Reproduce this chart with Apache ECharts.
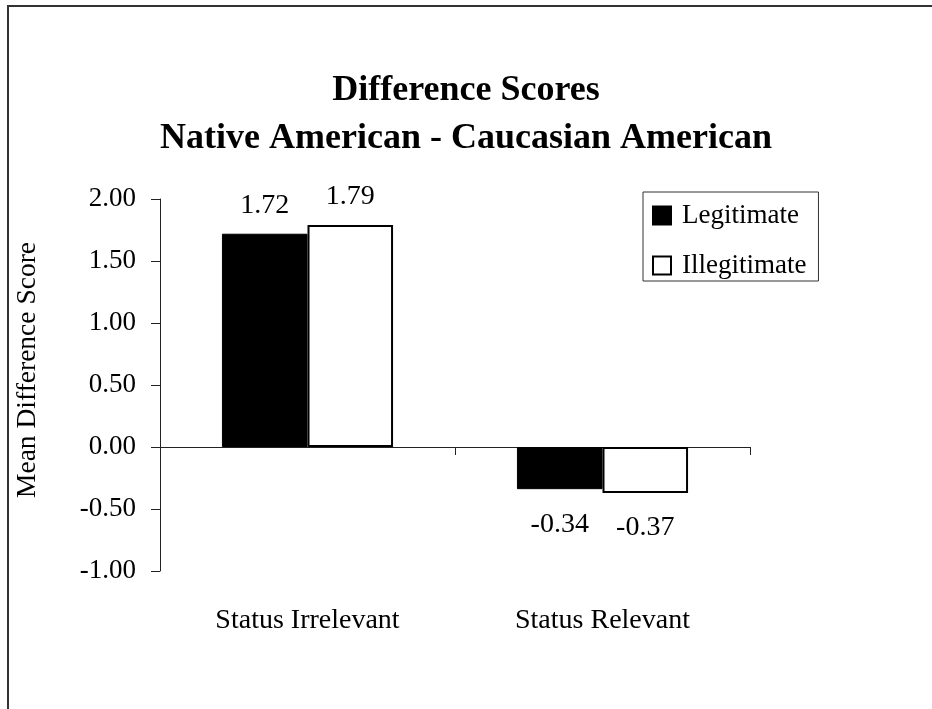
<!DOCTYPE html>
<html>
<head>
<meta charset="utf-8">
<script src="https://cdn.jsdelivr.net/npm/echarts@6/dist/echarts.min.js"></script>
<style>
  html, body { margin: 0; padding: 0; background: #fff; }
  #chart { width: 932px; height: 709px; }
</style>
</head>
<body>
<div id="chart"></div>
<script>
// Mean difference scores (Native American minus Caucasian American)
const categories = ['Status Irrelevant', 'Status Relevant'];
const legitimate = [1.72, -0.34];
const illegitimate = [1.79, -0.37];
const seriesNames = ['Legitimate', 'Illegitimate'];
const yTicks = { min: -1, max: 2, step: 0.5 };

const FONT = '"Liberation Serif", "Times New Roman", serif';

// Value labels sit above positive bars and below negative ones
function withLabels(values, gapUp, gapDown) {
  return values.map(v => ({
    value: v,
    label: { position: v >= 0 ? 'top' : 'bottom', distance: v >= 0 ? gapUp : gapDown }
  }));
}

const chart = echarts.init(document.getElementById('chart'), null, { renderer: 'canvas' });

chart.setOption({
  backgroundColor: '#ffffff',
  animation: false,
  title: {
    text: 'Difference Scores\nNative American - Caucasian American',
    left: 'center',
    top: 62,
    textStyle: {
      fontFamily: FONT,
      fontWeight: 'bold',
      fontSize: 36,
      lineHeight: 48,
      color: '#000'
    }
  },
  legend: {
    orient: 'vertical',
    left: 643,
    top: 192,
    padding: [10, 12, 2, 9],
    itemGap: 23,
    itemWidth: 18,
    itemHeight: 18,
    borderColor: '#333',
    borderWidth: 1,
    icon: 'rect',
    data: seriesNames,
    textStyle: {
      fontFamily: FONT,
      fontSize: 27,
      lineHeight: 26,
      color: '#000',
      padding: [0, 0, 0, 6]
    }
  },
  grid: {
    left: 160,
    right: 182,
    top: 199,
    bottom: 138,
    containLabel: false,
    outerBoundsMode: 'none'
  },
  xAxis: {
    type: 'category',
    data: categories,
    axisLine: { onZero: true, lineStyle: { color: '#222', width: 1 } },
    axisTick: { show: true, length: 8, inside: false, lineStyle: { color: '#222' } },
    axisLabel: {
      margin: 36,
      fontFamily: FONT,
      fontSize: 28,
      color: '#000'
    },
    splitLine: { show: false }
  },
  yAxis: {
    type: 'value',
    min: yTicks.min,
    max: yTicks.max,
    interval: yTicks.step,
    axisLine: { show: true, lineStyle: { color: '#222', width: 1 } },
    axisTick: { show: true, length: 9, lineStyle: { color: '#222' } },
    axisLabel: {
      margin: 24,
      fontFamily: FONT,
      fontSize: 27,
      color: '#000',
      formatter: v => v.toFixed(2)
    },
    splitLine: { show: false }
  },
  graphic: [
    {
      type: 'rect',
      silent: true,
      shape: { x: 8, y: 6, width: 940, height: 740 },
      style: { fill: 'none', stroke: '#333', lineWidth: 2 }
    },
    {
      type: 'text',
      silent: true,
      x: 28,
      y: 370,
      rotation: Math.PI / 2,
      style: {
        text: 'Mean Difference Score',
        fontFamily: FONT,
        fontSize: 27.5,
        fill: '#000',
        align: 'center',
        verticalAlign: 'middle'
      }
    }
  ],
  series: [
    {
      name: seriesNames[0],
      type: 'bar',
      barGap: '0%',
      barCategoryGap: '42%',
      data: withLabels(legitimate, 14, 21),
      itemStyle: { color: '#000', borderColor: '#000', borderWidth: 1 },
      label: {
        show: true,
        fontFamily: FONT,
        fontSize: 28,
        color: '#000',
        formatter: p => p.value.toFixed(2)
      }
    },
    {
      name: seriesNames[1],
      type: 'bar',
      barGap: '0%',
      barCategoryGap: '42%',
      data: withLabels(illegitimate, 14, 21),
      itemStyle: { color: '#fff', borderColor: '#000', borderWidth: 2 },
      label: {
        show: true,
        fontFamily: FONT,
        fontSize: 28,
        color: '#000',
        formatter: p => p.value.toFixed(2)
      }
    }
  ]
});
</script>
</body>
</html>
